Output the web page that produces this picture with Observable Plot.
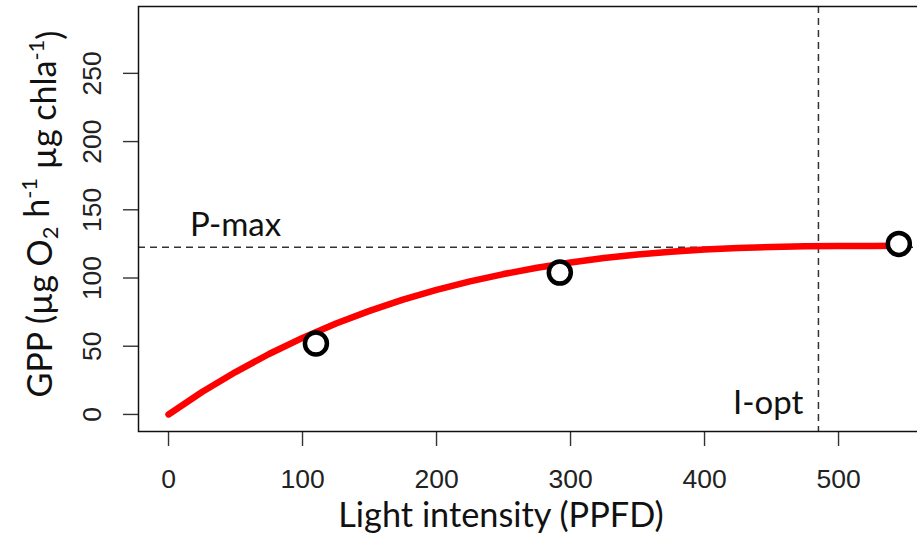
<!DOCTYPE html>
<html>
<head>
<meta charset="utf-8">
<script src="https://cdn.jsdelivr.net/npm/d3@7"></script>
<script src="https://cdn.jsdelivr.net/npm/@observablehq/plot@0.6"></script>
<style>
  html, body { margin: 0; padding: 0; background: #fff; overflow: hidden; }
  #chart { width: 917px; height: 536px; overflow: hidden; }
  #chart svg { max-width: none !important; width: 973px !important; height: 536px !important; display: block; }
</style>
</head>
<body>
<div id="chart"></div>
<script>
// Fitted light-response curve
const curveI = [0, 25, 50, 75, 100, 125, 150, 175, 200, 225, 250, 275, 300, 325, 350, 375, 400, 425, 450, 475, 500, 525, 545];
const curveP = [0, 16.4, 31.1, 44.3, 56.1, 66.6, 75.9, 84.1, 91.3, 97.5, 102.9, 107.5, 111.4, 114.6, 117.3, 119.3, 120.9, 122.0, 122.8, 123.2, 123.4, 123.5, 123.6];
// Observed points
const obsI = [110, 292, 545];
const obsP = [52, 104, 125];
// Reference values
const pMax = 122.5;
const iOpt = 485;
// Tick labels
const xTicks = [0, 100, 200, 300, 400, 500];
const yTicks = [0, 50, 100, 150, 200, 250];
// Annotation labels
const pMaxLabel = "P-max";
const iOptLabel = "I-opt";
const xTitle = "Light intensity (PPFD)";

const curve = curveI.map((d, i) => ({I: d, P: curveP[i]}));
const obs = obsI.map((d, i) => ({I: d, P: obsP[i]}));

const tickFont = "'Liberation Sans', Arial, sans-serif";

const svg = Plot.plot({
  width: 973,
  height: 536,
  marginLeft: 138,
  marginRight: 10.6,
  marginTop: 6,
  marginBottom: 105,
  style: {fontFamily: tickFont, fontSize: "26px", color: "#222", background: "#fff", maxWidth: "none"},
  x: {domain: [-22.4, 592.8], label: null},
  y: {domain: [-12.5, 299], label: null},
  marks: [
    Plot.axisX(xTicks, {tickSize: 15, tickPadding: 23, fontSize: 26.5, fontFamily: tickFont, label: null, stroke: "#333", strokeWidth: 1.4, fill: "#222"}),
    Plot.axisY(yTicks, {tickSize: 15, tickFormat: () => "", label: null, stroke: "#333", strokeWidth: 1.4}),
    Plot.text(yTicks, {y: d => d, text: d => String(d), frameAnchor: "left", dx: -46, rotate: -90, textAnchor: "middle", lineAnchor: "middle", fontSize: 26.5, fontFamily: tickFont, fill: "#222"}),
    Plot.ruleY([pMax], {stroke: "#333", strokeWidth: 1.5, strokeDasharray: "7,5"}),
    Plot.ruleX([iOpt], {stroke: "#333", strokeWidth: 1.5, strokeDasharray: "7,5"}),
    Plot.line(curve, {x: "I", y: "P", stroke: "#ff0000", strokeWidth: 6.5}),
    Plot.dot(obs, {x: "I", y: "P", r: 11, stroke: "#000", strokeWidth: 4.5, fill: "#fff"}),
    Plot.text([pMaxLabel], {x: 50, y: pMax, text: d => d, dy: -11, textAnchor: "middle", lineAnchor: "bottom", fontFamily: "Lato", fontSize: 33, fill: "#111"}),
    Plot.text([iOptLabel], {x: iOpt, y: 0, text: d => d, dx: -15, textAnchor: "end", lineAnchor: "bottom", fontFamily: "Lato", fontSize: 33, fill: "#111"}),
    Plot.frame({stroke: "#111", strokeWidth: 1.5})
  ]
});

const s = d3.select(svg);
s.append("text")
  .attr("x", 501).attr("y", 527)
  .attr("text-anchor", "middle")
  .attr("fill", "#111")
  .style("font-family", "Lato").style("font-size", "34.3px")
  .text(xTitle);

const yt = s.append("text")
  .attr("transform", "translate(52,214) rotate(-90)")
  .attr("text-anchor", "middle")
  .attr("fill", "#111")
  .style("font-family", "Lato").style("font-size", "34px");
yt.append("tspan").text("GPP (µg O");
yt.append("tspan").attr("dy", "0.25em").style("font-size", "22px").text("2");
yt.append("tspan").attr("dy", "-0.25em").text(" h");
yt.append("tspan").attr("dy", "-0.55em").style("font-size", "22px").text("-1");
yt.append("tspan").attr("dy", "0.55em").text(" µg chla");
yt.append("tspan").attr("dy", "-0.55em").style("font-size", "22px").text("-1");
yt.append("tspan").attr("dy", "0.55em").text(")");

document.getElementById("chart").appendChild(svg);
</script>
</body>
</html>
